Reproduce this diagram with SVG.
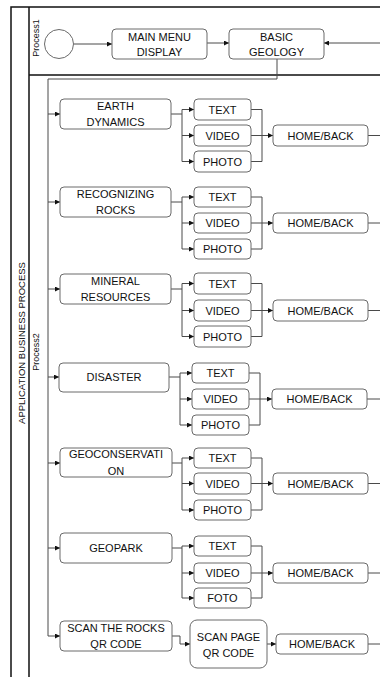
<svg xmlns="http://www.w3.org/2000/svg" width="380" height="677" viewBox="0 0 380 677">
<style>
.bg{fill:#fff}
.frame{fill:none;stroke:#111;stroke-width:1.5}
.box{fill:#fff;stroke:#6a6a6a;stroke-width:1}
.conn{fill:none;stroke:#4a4a4a;stroke-width:1}
.t{font-family:"Liberation Sans",Arial,sans-serif;font-size:11px;fill:#111;text-anchor:middle}
.lane{font-family:"Liberation Sans",Arial,sans-serif;font-size:9px;fill:#111;text-anchor:middle}
.title{font-family:"Liberation Sans",Arial,sans-serif;font-size:9.5px;fill:#111;text-anchor:middle}
</style>
<defs>
<marker id="arr" markerWidth="5" markerHeight="5" refX="5" refY="2.5" orient="auto" markerUnits="userSpaceOnUse">
<path d="M0,0 L5,2.5 L0,5 z" fill="#111"/>
</marker>
</defs>
<rect class="bg" x="0" y="0" width="380" height="677"/>
<g id="frame">
<path class="frame" d="M11,677 V7 H380 M29,7 V677 M29,75 H380"/>
<text class="title" transform="translate(25,343) rotate(-90)">APPLICATION BUSINESS PROCESS</text>
<text class="lane" transform="translate(39,38) rotate(-90)">Process1</text>
<text class="lane" transform="translate(39,352) rotate(-90)">Process2</text>
</g>
<g id="connectors">
<path class="conn" d="M74,44 H112" marker-end="url(#arr)"/>
<path class="conn" d="M207,43 H229" marker-end="url(#arr)"/>
<path class="conn" d="M380,43 H324" marker-end="url(#arr)"/>
<path class="conn" d="M277,59 V79 H48 V636"/>
<path class="conn" d="M48,114 H60" marker-end="url(#arr)"/>
<path class="conn" d="M48,202 H60" marker-end="url(#arr)"/>
<path class="conn" d="M48,289 H60" marker-end="url(#arr)"/>
<path class="conn" d="M48,377 H59" marker-end="url(#arr)"/>
<path class="conn" d="M48,463 H60" marker-end="url(#arr)"/>
<path class="conn" d="M48,548 H60" marker-end="url(#arr)"/>
<path class="conn" d="M48,636 H60" marker-end="url(#arr)"/>
<!-- S1 -->
<path class="conn" d="M171,114 H182 M182,109.5 V161.5"/>
<path class="conn" d="M182,109.5 H194" marker-end="url(#arr)"/>
<path class="conn" d="M182,135.5 H194" marker-end="url(#arr)"/>
<path class="conn" d="M182,161.5 H194" marker-end="url(#arr)"/>
<path class="conn" d="M251,109.5 H262 V161.5 H251"/>
<path class="conn" d="M251,135.5 H273" marker-end="url(#arr)"/>
<path class="conn" d="M368,135.5 H380"/>
<!-- S2 -->
<path class="conn" d="M171,202 H182 M182,197 V249"/>
<path class="conn" d="M182,197 H194" marker-end="url(#arr)"/>
<path class="conn" d="M182,223 H194" marker-end="url(#arr)"/>
<path class="conn" d="M182,249 H194" marker-end="url(#arr)"/>
<path class="conn" d="M251,197 H262 V249 H251"/>
<path class="conn" d="M251,223 H273" marker-end="url(#arr)"/>
<path class="conn" d="M368,223 H380"/>
<!-- S3 -->
<path class="conn" d="M171,289 H182 M182,283.5 V336.5"/>
<path class="conn" d="M182,283.5 H194" marker-end="url(#arr)"/>
<path class="conn" d="M182,310.5 H194" marker-end="url(#arr)"/>
<path class="conn" d="M182,336.5 H194" marker-end="url(#arr)"/>
<path class="conn" d="M251,283.5 H262 V336.5 H251"/>
<path class="conn" d="M251,310.5 H273" marker-end="url(#arr)"/>
<path class="conn" d="M368,310.5 H380"/>
<!-- S4 -->
<path class="conn" d="M169,377 H180 M180,373 V425"/>
<path class="conn" d="M180,373 H192" marker-end="url(#arr)"/>
<path class="conn" d="M180,399 H192" marker-end="url(#arr)"/>
<path class="conn" d="M180,425 H192" marker-end="url(#arr)"/>
<path class="conn" d="M249,373 H260 V425 H249"/>
<path class="conn" d="M249,399 H272" marker-end="url(#arr)"/>
<path class="conn" d="M367,399 H380"/>
<!-- S5 -->
<path class="conn" d="M172,463 H182 M182,458 V510"/>
<path class="conn" d="M182,458 H194" marker-end="url(#arr)"/>
<path class="conn" d="M182,483.5 H194" marker-end="url(#arr)"/>
<path class="conn" d="M182,510 H194" marker-end="url(#arr)"/>
<path class="conn" d="M251,458 H262 V510 H251"/>
<path class="conn" d="M251,483.5 H273" marker-end="url(#arr)"/>
<path class="conn" d="M368,483.5 H380"/>
<!-- S6 -->
<path class="conn" d="M172,548 H182 M182,546 V598"/>
<path class="conn" d="M182,546 H194" marker-end="url(#arr)"/>
<path class="conn" d="M182,573 H194" marker-end="url(#arr)"/>
<path class="conn" d="M182,598 H194" marker-end="url(#arr)"/>
<path class="conn" d="M251,546 H262 V598 H251"/>
<path class="conn" d="M251,573 H273" marker-end="url(#arr)"/>
<path class="conn" d="M368,573 H380"/>
<!-- S7 -->
<path class="conn" d="M172,636 H180 V644 H190" marker-end="url(#arr)"/>
<path class="conn" d="M267,644 H276" marker-end="url(#arr)"/>
<path class="conn" d="M368,644 H380"/>
</g>
<g id="start"><circle class="box" cx="59" cy="44" r="14.5"/></g>
<g id="main-menu"><rect class="box" x="112" y="29" width="95" height="30" rx="4"/><text class="t" x="159.5" y="41">MAIN MENU</text><text class="t" x="159.5" y="56">DISPLAY</text></g>
<g id="basic-geology"><rect class="box" x="229" y="29" width="95" height="30" rx="4"/><text class="t" x="276.5" y="41">BASIC</text><text class="t" x="276.5" y="56">GEOLOGY</text></g>

<g id="earth-dynamics"><rect class="box" x="60" y="99" width="111" height="30" rx="4"/><text class="t" x="115.5" y="110">EARTH</text><text class="t" x="115.5" y="126">DYNAMICS</text></g>
<g id="s1-text"><rect class="box" x="194" y="99" width="57" height="21" rx="4"/><text class="t" x="222.5" y="113.5">TEXT</text></g>
<g id="s1-video"><rect class="box" x="194" y="125" width="57" height="21" rx="4"/><text class="t" x="222.5" y="139.5">VIDEO</text></g>
<g id="s1-photo"><rect class="box" x="194" y="151" width="57" height="21" rx="4"/><text class="t" x="222.5" y="165.5">PHOTO</text></g>
<g id="s1-home"><rect class="box" x="273" y="125" width="95" height="21" rx="4"/><text class="t" x="320.5" y="139.5">HOME/BACK</text></g>

<g id="recognizing-rocks"><rect class="box" x="60" y="187" width="111" height="30" rx="4"/><text class="t" x="115.5" y="198">RECOGNIZING</text><text class="t" x="115.5" y="213.5">ROCKS</text></g>
<g id="s2-text"><rect class="box" x="194" y="187" width="57" height="20" rx="4"/><text class="t" x="222.5" y="201">TEXT</text></g>
<g id="s2-video"><rect class="box" x="194" y="213" width="57" height="20" rx="4"/><text class="t" x="222.5" y="227">VIDEO</text></g>
<g id="s2-photo"><rect class="box" x="194" y="239" width="57" height="20" rx="4"/><text class="t" x="222.5" y="253">PHOTO</text></g>
<g id="s2-home"><rect class="box" x="273" y="213" width="95" height="20" rx="4"/><text class="t" x="320.5" y="227">HOME/BACK</text></g>

<g id="mineral-resources"><rect class="box" x="60" y="274" width="111" height="30" rx="4"/><text class="t" x="115.5" y="285">MINERAL</text><text class="t" x="115.5" y="301">RESOURCES</text></g>
<g id="s3-text"><rect class="box" x="194" y="273" width="57" height="21" rx="4"/><text class="t" x="222.5" y="287.5">TEXT</text></g>
<g id="s3-video"><rect class="box" x="194" y="300" width="57" height="21" rx="4"/><text class="t" x="222.5" y="314.5">VIDEO</text></g>
<g id="s3-photo"><rect class="box" x="194" y="326" width="57" height="21" rx="4"/><text class="t" x="222.5" y="340.5">PHOTO</text></g>
<g id="s3-home"><rect class="box" x="273" y="300" width="95" height="21" rx="4"/><text class="t" x="320.5" y="314.5">HOME/BACK</text></g>

<g id="disaster"><rect class="box" x="59" y="363" width="110" height="29" rx="4"/><text class="t" x="114" y="381">DISASTER</text></g>
<g id="s4-text"><rect class="box" x="192" y="363" width="57" height="20" rx="4"/><text class="t" x="220.5" y="377">TEXT</text></g>
<g id="s4-video"><rect class="box" x="192" y="389" width="57" height="20" rx="4"/><text class="t" x="220.5" y="403">VIDEO</text></g>
<g id="s4-photo"><rect class="box" x="192" y="415" width="57" height="20" rx="4"/><text class="t" x="220.5" y="429">PHOTO</text></g>
<g id="s4-home"><rect class="box" x="272" y="389" width="95" height="20" rx="4"/><text class="t" x="319.5" y="403">HOME/BACK</text></g>

<g id="geoconservation"><rect class="box" x="60" y="448" width="112" height="29" rx="4"/><text class="t" x="116" y="458">GEOCONSERVATI</text><text class="t" x="116" y="475">ON</text></g>
<g id="s5-text"><rect class="box" x="194" y="448" width="57" height="20" rx="4"/><text class="t" x="222.5" y="462">TEXT</text></g>
<g id="s5-video"><rect class="box" x="194" y="473" width="57" height="21" rx="4"/><text class="t" x="222.5" y="487.5">VIDEO</text></g>
<g id="s5-photo"><rect class="box" x="194" y="500" width="57" height="20" rx="4"/><text class="t" x="222.5" y="514">PHOTO</text></g>
<g id="s5-home"><rect class="box" x="273" y="473" width="95" height="21" rx="4"/><text class="t" x="320.5" y="487.5">HOME/BACK</text></g>

<g id="geopark"><rect class="box" x="60" y="533" width="112" height="30" rx="4"/><text class="t" x="116" y="551.5">GEOPARK</text></g>
<g id="s6-text"><rect class="box" x="194" y="536" width="57" height="20" rx="4"/><text class="t" x="222.5" y="550">TEXT</text></g>
<g id="s6-video"><rect class="box" x="194" y="563" width="57" height="20" rx="4"/><text class="t" x="222.5" y="577">VIDEO</text></g>
<g id="s6-foto"><rect class="box" x="194" y="588" width="57" height="20" rx="4"/><text class="t" x="222.5" y="602">FOTO</text></g>
<g id="s6-home"><rect class="box" x="273" y="563" width="95" height="20" rx="4"/><text class="t" x="320.5" y="577">HOME/BACK</text></g>

<g id="scan-rocks"><rect class="box" x="60" y="621" width="112" height="30" rx="4"/><text class="t" x="116" y="632">SCAN THE ROCKS</text><text class="t" x="116" y="647.5">QR CODE</text></g>
<g id="scan-page"><rect class="box" x="190" y="620" width="77" height="48" rx="7"/><text class="t" x="228.5" y="641">SCAN PAGE</text><text class="t" x="228.5" y="656.5">QR CODE</text></g>
<g id="s7-home"><rect class="box" x="276" y="634" width="92" height="20" rx="4"/><text class="t" x="322" y="648">HOME/BACK</text></g>
</svg>
